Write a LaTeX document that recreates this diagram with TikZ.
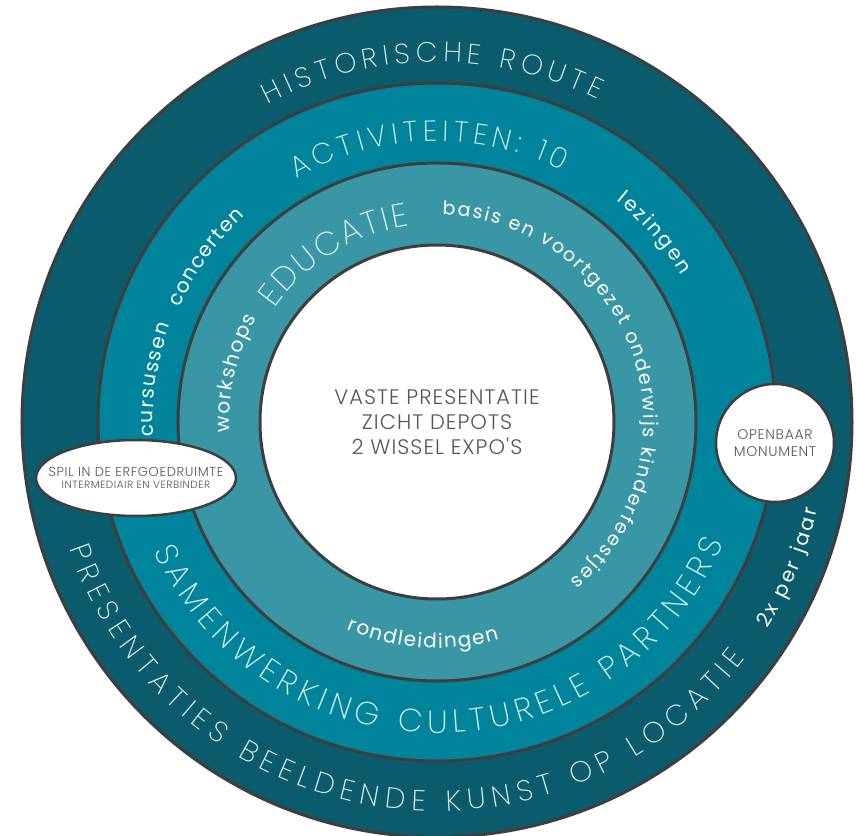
\documentclass[tikz,border=0pt]{standalone}
\usepackage{fontspec}
\setmainfont{Poppins}
\newfontfamily\thinfont{Poppins ExtraLight}
\newfontfamily\widefont{Poppins Light}[LetterSpace=5]
\usetikzlibrary{decorations.text,shapes.geometric}
\definecolor{ringdark}{RGB}{10,92,108}
\definecolor{ringmid}{RGB}{0,132,156}
\definecolor{ringlight}{RGB}{57,150,165}
\definecolor{rimgray}{RGB}{62,62,62}
\definecolor{capwhite}{RGB}{214,238,242}
\definecolor{labelgray}{RGB}{85,85,85}
\newcommand\capfont[1]{\thinfont\fontsize{#1}{#1}\selectfont}
\newcommand\lowfont[1]{\fontsize{#1}{#1}\selectfont}
\begin{document}
\begin{tikzpicture}[x=1pt,y=1pt,
  ring/.style={fill=#1, draw=rimgray, line width=3pt},
  ringtext/.style={decorate, decoration={text along path, text align={fit to path}, text color=#1}},
  bubble/.style={draw=rimgray, line width=2.5pt, fill=white, inner sep=0pt, align=center, text=labelgray}]
\useasboundingbox (-437,-413) rectangle (419,422);
\path[ring=ringdark] (0,0) circle[radius=415];
\path[ring=ringmid] (0,0) circle[radius=339];
\path[ring=ringlight] (0,0) circle[radius=259];
\path[ring=white] (0,0) circle[radius=177];

\path[ringtext=capwhite, decoration={text={|\capfont{28}|HISTORISCHE ROUTE}}] (118:360) arc[start angle=118, end angle=63.5, radius=360];
\path[ringtext=capwhite, decoration={text={|\capfont{29}|ACTIVITEITEN: 10}}] (120:281) arc[start angle=120, end angle=63.5, radius=281];
\path[ringtext=capwhite, decoration={text={|\capfont{33}|EDUCATIE}}] (145:198) arc[start angle=145, end angle=98, radius=198];
\path[ringtext=capwhite, decoration={text={|\capfont{32}|SAMENWERKING CULTURELE PARTNERS}}] (204.5:311) arc[start angle=204.5, end angle=337, radius=311];
\path[ringtext=capwhite, decoration={text={|\capfont{29}|PRESENTATIES BEELDENDE KUNST OP LOCATIE}}] (199:389) arc[start angle=199, end angle=322.5, radius=389];

\path[ringtext=white, decoration={text={|\lowfont{20}|workshops}}] (183:208) arc[start angle=183, end angle=150, radius=208];
\path[ringtext=white, decoration={text={|\lowfont{19}|basis en voortgezet onderwijs kinderfeestjes}}] (88.5:207) arc[start angle=88.5, end angle=-50, radius=207];
\path[ringtext=white, decoration={text={|\lowfont{20}|rondleidingen}}] (246.5:226) arc[start angle=246.5, end angle=286, radius=226];
\path[ringtext=white, decoration={text={|\lowfont{20}|cursussen}}] (183:284) arc[start angle=183, end angle=160, radius=284];
\path[ringtext=white, decoration={text={|\lowfont{20}|concerten}}] (156:282) arc[start angle=156, end angle=133, radius=282];
\path[ringtext=white, decoration={text={|\lowfont{20}|lezingen}}] (51:285) arc[start angle=51, end angle=31, radius=285];
\path[ringtext=white, decoration={text={|\lowfont{20}|2x per jaar}}] (-32:390) arc[start angle=-32, end angle=-13, radius=390];

\node[text=labelgray, align=center, font=\widefont\fontsize{21}{25}\selectfont] (core) at (0,0) {VASTE PRESENTATIE\\ZICHT DEPOTS\\2 WISSEL EXPO'S};
\node[bubble, ellipse, minimum width=200, minimum height=76] (spil) at (-301,-56) {};
\node[text=labelgray, align=center, inner sep=0pt] (spiltext) at (spil.center) {{\widefont\fontsize{13}{15}\selectfont SPIL IN DE ERFGOEDRUIMTE}\\{\widefont\fontsize{10.5}{12}\selectfont INTERMEDIAIR EN VERBINDER}};
\node[bubble, circle, minimum size=118, font=\widefont\fontsize{14}{17}\selectfont] (monument) at (338,-21) {OPENBAAR\\MONUMENT};
\end{tikzpicture}
\end{document}
